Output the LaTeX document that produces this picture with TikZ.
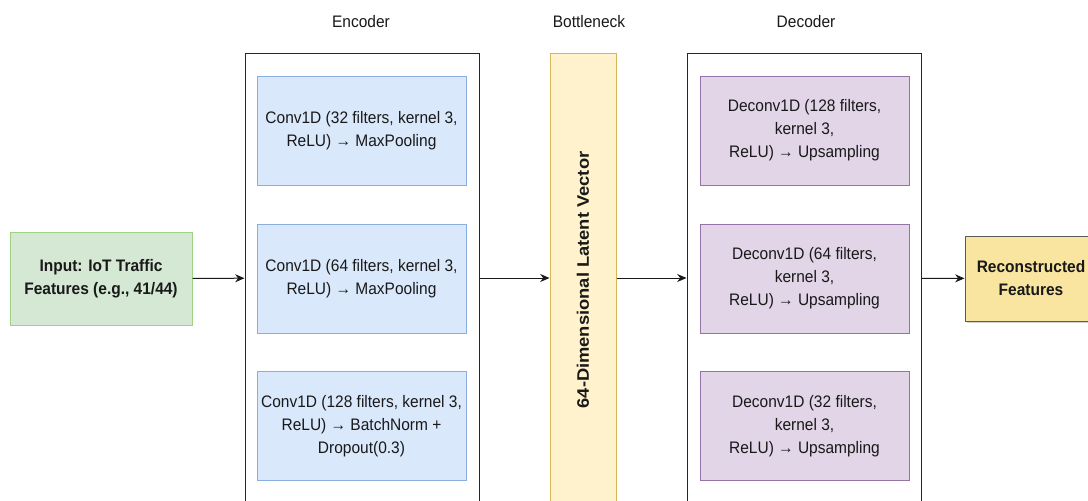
\documentclass[tikz,border=0pt]{standalone}
\usepackage{fontspec}
\setmainfont[FakeStretch=0.93]{Liberation Sans}
\newfontfamily\vertfont[FakeStretch=1.1]{Liberation Sans}
\usetikzlibrary{arrows.meta,shadows}

\definecolor{infill}{HTML}{D5E8D4}
\definecolor{inline}{HTML}{9ED383}
\definecolor{encfill}{HTML}{DAE8FC}
\definecolor{encline}{HTML}{8BAEE0}
\definecolor{decfill}{HTML}{E1D5E7}
\definecolor{decline}{HTML}{9673A6}
\definecolor{botfill}{HTML}{FFF2CC}
\definecolor{botline}{HTML}{D6B656}
\definecolor{outfill}{HTML}{FAE5A0}
\definecolor{outline}{HTML}{5A5A5A}

\tikzset{
  txt/.style={font=\fontsize{12.5}{17.25}\selectfont, text=black!90},
  bold/.style={font=\fontsize{12.5}{17.25}\selectfont\bfseries, text=black!90},
  group/.style={draw=black!85, line width=0.75pt, minimum width=175.5pt, minimum height=337.5pt},
  layer/.style={txt, line width=0.75pt, minimum width=156.75pt, minimum height=81.75pt, align=center, inner sep=1pt},
  enclayer/.style={layer, draw=encline, fill=encfill},
  declayer/.style={layer, draw=decline, fill=decfill},
  title/.style={txt},
  flow/.style={-{Stealth[length=7pt,width=6pt]}, line width=0.75pt, black!90},
}

\begin{document}
\begin{tikzpicture}[x=0.75pt, y=-0.75pt]
    \useasboundingbox (0,0) rectangle (1088,500);
    \clip (0,0) rectangle (1088,500);

    % input
    \node[bold, align=center, draw=inline, fill=infill,
          line width=0.75pt, minimum width=136.5pt, minimum height=69.75pt] (in) at (101,278.5)
          {Input: IoT Traffic\\Features (e.g., 41/44)};

    % encoder
    \node[group] (enc) at (362,278) {};
    \node[title] (enctitle) at (361,22) {Encoder};
    \node[enclayer] (enc1) at (361.5,130.5) {Conv1D (32 filters, kernel 3,\\ReLU) → MaxPooling};
    \node[enclayer] (enc2) at (361.5,278.5) {Conv1D (64 filters, kernel 3,\\ReLU) → MaxPooling};
    \node[enclayer] (enc3) at (361.5,426) {Conv1D (128 filters, kernel 3,\\ReLU) → BatchNorm +\\Dropout(0.3)};

    % bottleneck
    \node[draw=botline, fill=botfill, line width=0.75pt, minimum width=49.5pt, minimum height=337.5pt] (bot) at (583,278) {};
    \node[font=\fontsize{12.5}{15}\vertfont\bfseries, text=black!90, rotate=90] (bottxt) at (583,280) {64-Dimensional Latent Vector};
    \node[title] (bottitle) at (589,22) {Bottleneck};

    % decoder
    \node[group] (dec) at (804,278) {};
    \node[title] (dectitle) at (806,22) {Decoder};
    \node[declayer] (dec1) at (804.5,130.5) {Deconv1D (128 filters,\\kernel 3,\\ReLU) → Upsampling};
    \node[declayer] (dec2) at (804.5,278.5) {Deconv1D (64 filters,\\kernel 3,\\ReLU) → Upsampling};
    \node[declayer] (dec3) at (804.5,426) {Deconv1D (32 filters,\\kernel 3,\\ReLU) → Upsampling};

    % output
    \node[bold, align=center, draw=outline, fill=outfill,
          line width=0.75pt, minimum width=99pt, minimum height=63.75pt,
          drop shadow={shadow xshift=1.5pt, shadow yshift=-1.5pt, opacity=0.35}] (out) at (1031,278.5)
          {Reconstructed\\Features};

    % connectors
    \draw[flow] (in) -- (enc);
    \draw[flow] (enc) -- (bot);
    \draw[flow] (bot) -- (dec);
    \draw[flow] (dec) -- (out);
\end{tikzpicture}
\end{document}
